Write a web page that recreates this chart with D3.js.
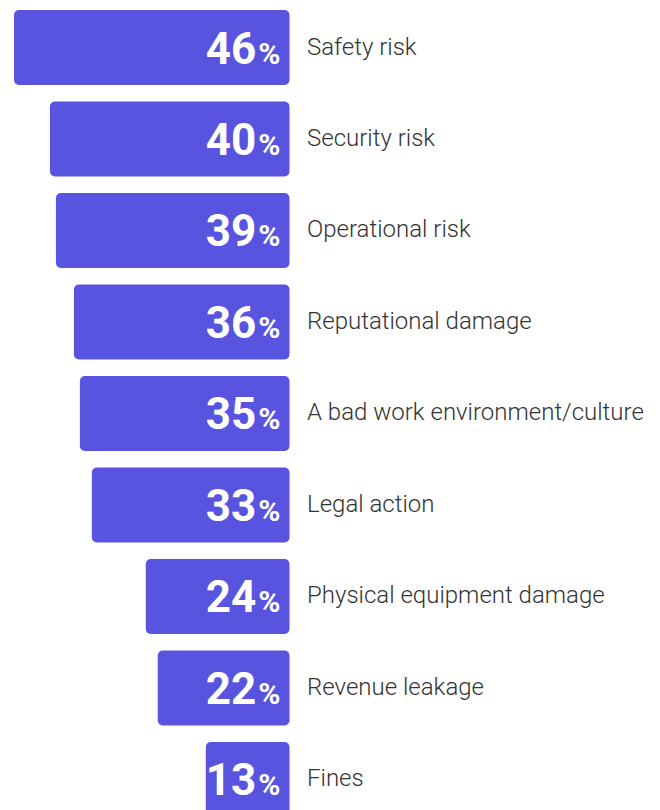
<!DOCTYPE html>
<html>
<head>
<meta charset="utf-8">
<script src="https://cdn.jsdelivr.net/npm/d3@7"></script>
<style>
  body { margin: 0; background: #fff; }
  svg { display: block; font-family: Roboto, "Noto Sans", sans-serif; }
</style>
</head>
<body>
<svg id="chart" width="660" height="810"></svg>
<script>
// chart data
var categories = ["Safety risk", "Security risk", "Operational risk", "Reputational damage",
    "A bad work environment/culture", "Legal action", "Physical equipment damage",
    "Revenue leakage", "Fines"];
var values = [46, 40, 39, 36, 35, 33, 24, 22, 13];

var barColor = "#5854e0";
var barRight = 289.5;

var svg = d3.select("#chart");

// x runs leftward from the right edge of the bars
var x = d3.scaleLinear()
    .domain([0, 46])
    .range([0, 275.5]);

var y = d3.scaleBand()
    .domain(categories)
    .range([10, 817])
    .paddingInner(0.18)
    .paddingOuter(0);

var data = categories.map(function(c, i){ return {name: c, value: values[i]}; });

var rows = svg.selectAll("g.row")
    .data(data)
    .enter()
    .append("g")
    .attr("class", "row")
    .attr("transform", function(d){ return "translate(0," + y(d.name) + ")"; });

var bars = rows.append("rect")
    .attr("y", 0)
    .attr("height", y.bandwidth())
    .attr("rx", 5)
    .attr("ry", 5)
    .attr("fill", barColor);

//value labels inside bars
var nums = rows.append("text")
    .attr("x", barRight - 9)
    .attr("y", y.bandwidth() / 2 + 16)
    .attr("text-anchor", "end")
    .attr("fill", "#fff")
    .attr("font-weight", 700)
    .attr("font-size", 44);
nums.append("tspan").text(function(d){ return d.value; });
nums.append("tspan")
    .attr("dx", 2)
    .attr("font-size", 30)
    .text("%");

//bar width, but never narrower than its label
bars.each(function(d){
    var tw = this.parentNode.querySelector("text").getBBox().width;
    var w = Math.max(x(d.value), tw + 9);
    d3.select(this)
        .attr("x", barRight - w)
        .attr("width", w);
});

//category names
rows.append("text")
    .attr("x", barRight + 17.5)
    .attr("y", y.bandwidth() / 2 + 7)
    .attr("fill", "#333")
    .attr("font-weight", 300)
    .attr("font-size", 24)
    .text(function(d){ return d.name; });
</script>
</body>
</html>
